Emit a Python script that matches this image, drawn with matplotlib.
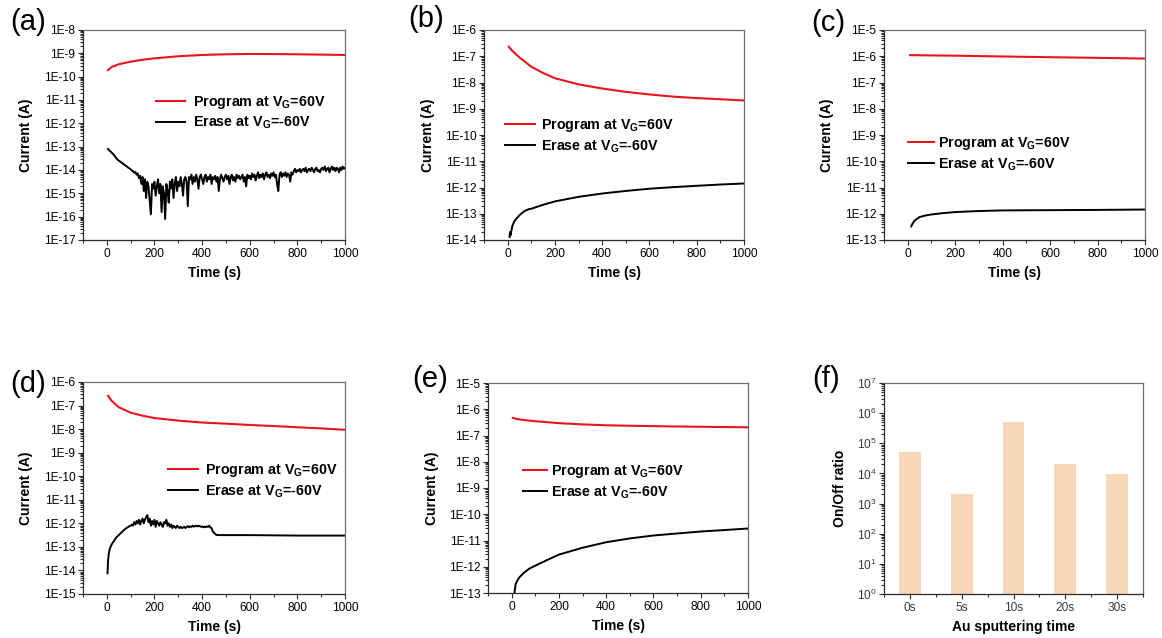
import numpy as np
import matplotlib
matplotlib.use("Agg")
import matplotlib.pyplot as plt  # noqa: E402
from matplotlib.ticker import (  # noqa: E402
    FuncFormatter, LogLocator, MultipleLocator, NullFormatter, FixedLocator,
)

plt.rcParams["font.family"] = ["Liberation Sans", "DejaVu Sans"]
plt.rcParams["mathtext.fontset"] = "custom"
plt.rcParams["mathtext.rm"] = "Liberation Sans"
plt.rcParams["mathtext.bf"] = "Liberation Sans:bold"

# ─────────────────────────────────────────────
# DATA
# ─────────────────────────────────────────────

# (a) 0 s sputtering
a_prog_t = [5, 20, 50, 100, 150, 200, 300, 400, 500, 600, 700, 800, 900, 1000]
a_prog_i = [1.9e-10, 2.6e-10, 3.4e-10, 4.4e-10, 5.3e-10, 6.1e-10, 7.5e-10,
            8.5e-10, 9.1e-10, 9.4e-10, 9.3e-10, 9.1e-10, 8.8e-10, 8.5e-10]
a_erase_t = np.arange(5, 1001, 5)
a_erase_log = [
    -13.10, -13.15, -13.20, -13.25, -13.30, -13.36, -13.42, -13.50, -13.55, -13.60,
    -13.63, -13.67, -13.70, -13.75, -13.78, -13.82, -13.86, -13.90, -13.93, -13.97,
    -14.02, -14.05, -14.12, -14.08, -14.20, -14.15, -14.35, -14.25, -14.60, -14.30,
    -14.90, -14.40, -15.20, -14.50, -14.70, -15.30, -15.90, -14.60, -14.80, -14.50,
    -15.10, -14.70, -14.40, -15.00, -14.60, -15.80, -14.70, -15.00, -16.10, -14.60,
    -14.90, -15.40, -14.50, -14.80, -14.40, -15.20, -14.60, -14.30, -14.90, -14.50,
    -14.70, -14.30, -14.60, -15.10, -14.40, -14.30, -14.50, -15.55, -14.30, -14.40,
    -14.20, -14.60, -14.30, -14.50, -14.20, -14.40, -14.80, -14.30, -14.20, -14.40,
    -14.60, -14.30, -14.20, -14.50, -14.30, -14.40, -14.20, -14.60, -14.30, -14.40,
    -14.25, -14.50, -14.30, -14.90, -14.40, -14.20, -14.35, -14.50, -14.30, -14.20,
    -14.40, -14.25, -14.60, -14.30, -14.20, -14.45, -14.30, -14.50, -14.20, -14.35,
    -14.25, -14.40, -14.30, -14.20, -14.50, -14.30, -14.70, -14.20, -14.35, -14.25,
    -14.40, -14.15, -14.30, -14.20, -14.45, -14.25, -14.10, -14.35, -14.20, -14.30,
    -14.15, -14.40, -14.20, -14.10, -14.30, -14.20, -14.35, -14.15, -14.25, -14.10,
    -14.30, -14.20, -14.60, -14.90, -14.20, -14.10, -14.30, -14.15, -14.25, -14.10,
    -14.30, -14.15, -14.20, -14.50, -14.10, -14.20, -14.05, -13.95, -14.10, -14.00,
    -14.05, -13.95, -14.10, -14.00, -13.95, -14.05, -13.90, -14.10, -14.00, -13.95,
    -14.05, -13.90, -14.00, -14.10, -13.95, -13.90, -14.05, -14.00, -14.10, -13.95,
    -13.90, -14.00, -13.85, -14.05, -13.95, -13.90, -14.10, -13.95, -13.85, -14.00,
    -13.90, -14.05, -13.90, -13.95, -14.10, -13.90, -14.00, -13.85, -13.95, -13.90,
]

# (b) 5 s sputtering
b_prog_t = [5, 20, 50, 100, 150, 200, 300, 400, 500, 600, 700, 800, 900, 1000]
b_prog_i = [2.3e-7, 1.6e-7, 9.0e-8, 4.0e-8, 2.3e-8, 1.45e-8, 8.5e-9,
            5.9e-9, 4.4e-9, 3.5e-9, 2.9e-9, 2.55e-9, 2.3e-9, 2.07e-9]
b_erase_t = [8, 10, 12, 20, 30, 50, 70, 90, 100, 150, 200, 300, 400, 500,
             600, 700, 800, 900, 1000]
b_erase_i = [1.3e-14, 2.0e-14, 1.5e-14, 3.5e-14, 5.5e-14, 8.8e-14, 1.25e-13,
             1.5e-13, 1.55e-13, 2.2e-13, 2.95e-13, 4.4e-13, 5.9e-13, 7.4e-13,
             9.0e-13, 1.03e-12, 1.16e-12, 1.3e-12, 1.42e-12]

# (c) 10 s sputtering
c_prog_t = [10, 200, 400, 600, 800, 1000]
c_prog_i = [1.1e-6, 1.05e-6, 0.98e-6, 0.92e-6, 0.87e-6, 0.815e-6]
c_erase_t = [15, 20, 30, 50, 75, 100, 150, 200, 300, 400, 600, 800, 1000]
c_erase_i = [3.3e-13, 4.2e-13, 5.6e-13, 7.5e-13, 8.6e-13, 9.4e-13, 1.06e-12,
             1.16e-12, 1.27e-12, 1.34e-12, 1.37e-12, 1.4e-12, 1.45e-12]

# (d) 20 s sputtering
d_prog_t = [5, 20, 50, 100, 150, 200, 300, 400, 500, 600, 700, 800, 900, 1000]
d_prog_i = [2.6e-7, 1.6e-7, 8.5e-8, 5.0e-8, 3.7e-8, 2.95e-8, 2.3e-8,
            1.9e-8, 1.7e-8, 1.5e-8, 1.35e-8, 1.2e-8, 1.07e-8, 9.4e-9]
d_erase_t = [3, 5, 8, 12, 20, 30, 40, 50, 60, 70, 80, 90, 100,
             105, 110, 115, 120, 125, 130, 135, 140, 145, 150, 155, 160, 165,
             170, 175, 180, 185, 190, 195, 200, 205, 210, 215, 220, 225, 230,
             235, 240, 245, 250, 255, 260, 265, 270, 275, 280, 285, 290, 295,
             300, 305, 310, 315, 320, 325, 330, 335, 340, 345, 350, 355, 360,
             365, 370, 375, 380, 385, 390, 395, 400, 405, 410, 415, 420, 425,
             430, 435, 440, 445, 450, 455, 460, 470, 500, 600, 700, 800, 900, 1000]
d_erase_log = [
    -14.12, -13.60, -13.30, -13.10, -12.90, -12.75, -12.60, -12.50, -12.40, -12.30,
    -12.22, -12.15, -12.10,
    -12.05, -12.10, -11.95, -12.05, -11.90, -12.00, -11.85, -12.05, -11.90, -11.80,
    -12.00, -11.85, -11.75, -11.65, -11.95, -11.80, -12.10, -11.90, -12.05, -11.85,
    -12.15, -11.90, -12.00, -12.10, -11.95, -12.05, -12.15, -11.95, -12.00, -11.85,
    -12.10, -12.00, -12.15, -12.05, -12.20, -12.10, -12.15, -12.20, -12.10, -12.15,
    -12.20, -12.15, -12.20, -12.18, -12.15, -12.20, -12.15, -12.12, -12.17, -12.13,
    -12.15, -12.10, -12.14, -12.12, -12.10, -12.13, -12.10, -12.12, -12.15, -12.13,
    -12.17, -12.14, -12.16, -12.13, -12.15, -12.10, -12.18, -12.20, -12.35, -12.40,
    -12.45, -12.49, -12.50, -12.50, -12.50, -12.51, -12.52, -12.52, -12.52,
]

# (e) 30 s sputtering
e_prog_t = [5, 20, 50, 100, 200, 300, 400, 500, 600, 700, 800, 900, 1000]
e_prog_i = [4.7e-7, 4.3e-7, 3.9e-7, 3.5e-7, 2.95e-7, 2.65e-7, 2.45e-7,
            2.35e-7, 2.28e-7, 2.2e-7, 2.15e-7, 2.1e-7, 2.05e-7]
e_erase_t = [12, 17, 30, 50, 75, 100, 150, 200, 300, 400, 500, 600, 700,
             800, 900, 1000]
e_erase_i = [1.0e-13, 2.2e-13, 3.7e-13, 5.7e-13, 8.5e-13, 1.1e-12, 1.8e-12,
             2.9e-12, 5.3e-12, 8.6e-12, 1.2e-11, 1.55e-11, 1.85e-11, 2.2e-11,
             2.5e-11, 2.86e-11]

# (f) on/off ratio
f_labels = ["0s", "5s", "10s", "20s", "30s"]
f_ratio = [5.0e4, 2.0e3, 5.0e5, 2.0e4, 9.3e3]

PROG_LABEL = "Program at V$_\\mathbf{G}$=60V"
ERASE_LABEL = "Erase at V$_\\mathbf{G}$=-60V"
RED = "#e8141c"
BAR = "#f8d7b8"

W, H = 1162, 638


def _axes_px(fig, left, top, right, bottom):
    return fig.add_axes([left / W, (H - bottom) / H,
                         (right - left) / W, (bottom - top) / H])


def _style_frame(ax):
    for side in ("left", "bottom"):
        ax.spines[side].set_color("#2a2a2a")
    for side in ("top", "right"):
        ax.spines[side].set_color("#6e6e6e")
    for sp in ax.spines.values():
        sp.set_linewidth(0.9)
    ax.tick_params(which="both", direction="out", top=False, right=False,
                   width=0.8, labelsize=8.6, pad=2, color="#2a2a2a")
    ax.tick_params(which="major", length=3.5)
    ax.tick_params(which="minor", length=2)


def _current_panel(fig, box, ylim, prog, erase, leg_xy, hlen, hpad):
    ax = _axes_px(fig, *box)
    ax.plot(*prog, color=RED, lw=1.5, label=PROG_LABEL)
    ax.plot(*erase, color="black", lw=1.4, label=ERASE_LABEL)
    ax.set_yscale("log")
    ax.set_ylim(*ylim)
    ax.set_xlim(-100, 1000)
    ax.xaxis.set_major_locator(FixedLocator([0, 200, 400, 600, 800, 1000]))
    ax.xaxis.set_minor_locator(MultipleLocator(100))
    ax.yaxis.set_major_locator(LogLocator(base=10, numticks=20))
    ax.yaxis.set_minor_locator(LogLocator(base=10, subs=np.arange(2, 10), numticks=20))
    ax.yaxis.set_major_formatter(
        FuncFormatter(lambda v, _: f"1E{int(round(np.log10(v)))}"))
    ax.yaxis.set_minor_formatter(NullFormatter())
    _style_frame(ax)
    ax.set_xlabel("Time (s)", fontsize=10, fontweight="bold")
    ax.set_ylabel("Current (A)", fontsize=10, fontweight="bold")
    ax.xaxis.set_label_coords(0.5, -0.125)
    ax.yaxis.set_label_coords(-0.19, 0.5)
    ax.legend(loc="center left", bbox_to_anchor=leg_xy, frameon=False,
              borderpad=0, borderaxespad=0, handlelength=hlen,
              handletextpad=hpad, labelspacing=0.3,
              prop={"weight": "bold", "size": 10.3})
    return ax


fig = plt.figure(figsize=(W / 100, H / 100), dpi=100)

_current_panel(fig, (83, 30, 345, 240), (1e-17, 1e-8),
               (a_prog_t, a_prog_i), (a_erase_t, 10.0 ** np.array(a_erase_log)),
               (0.28, 0.607), 2.0, 0.55)
_current_panel(fig, (484, 30, 744, 240), (1e-14, 1e-6),
               (b_prog_t, b_prog_i), (b_erase_t, b_erase_i),
               (0.08, 0.495), 2.1, 0.4)
_current_panel(fig, (884, 30, 1145, 240), (1e-13, 1e-5),
               (c_prog_t, c_prog_i), (c_erase_t, c_erase_i),
               (0.092, 0.41), 1.8, 0.3)
_current_panel(fig, (83, 382, 345, 594), (1e-15, 1e-6),
               (d_prog_t, d_prog_i), (d_erase_t, 10.0 ** np.array(d_erase_log)),
               (0.325, 0.533), 2.1, 0.45)
_current_panel(fig, (488, 383, 748, 593), (1e-13, 1e-5),
               (e_prog_t, e_prog_i), (e_erase_t, e_erase_i),
               (0.135, 0.529), 1.7, 0.25)

# (f) bar chart
axf = _axes_px(fig, 884, 383, 1143, 594)
xpos = np.arange(len(f_labels))
axf.bar(xpos, f_ratio, width=0.42, color=BAR, bottom=1)
axf.set_yscale("log")
axf.set_ylim(1, 1e7)
axf.set_xlim(-0.5, len(f_labels) - 0.5)
axf.set_xticks(xpos)
axf.set_xticklabels(f_labels)
axf.xaxis.set_minor_locator(MultipleLocator(0.5))
axf.yaxis.set_major_locator(LogLocator(base=10, numticks=20))
axf.yaxis.set_minor_locator(LogLocator(base=10, subs=np.arange(2, 10), numticks=20))
axf.yaxis.set_minor_formatter(NullFormatter())
_style_frame(axf)
axf.tick_params(labelcolor="#3a3a3a")
axf.set_xlabel("Au sputtering time", fontsize=10, fontweight="bold")
axf.set_ylabel("On/Off ratio", fontsize=10, fontweight="bold")
axf.xaxis.set_label_coords(0.5, -0.123)
axf.yaxis.set_label_coords(-0.143, 0.5)

# panel letters
for letter, (px, py) in zip("abcdef", [(28, 22), (426, 19), (828, 23),
                                       (28, 384), (430, 379), (826, 379)]):
    fig.text(px / W, 1 - py / H, f"({letter})", fontsize=21,
             ha="center", va="center")

fig.savefig("out.png", dpi=100, facecolor="white")
